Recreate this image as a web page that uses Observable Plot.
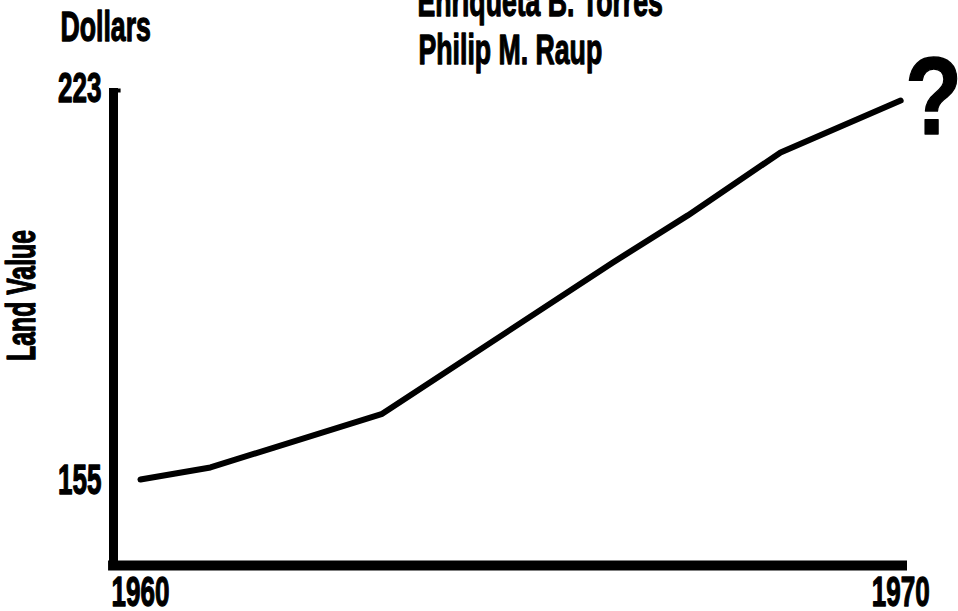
<!DOCTYPE html>
<html>
<head>
<meta charset="utf-8">
<script src="https://cdn.jsdelivr.net/npm/d3@7"></script>
<script src="https://cdn.jsdelivr.net/npm/@observablehq/plot@0.6"></script>
<style>
  html, body { margin: 0; padding: 0; background: #fff; }
  svg text { font-family: "Liberation Sans", Arial, sans-serif; font-weight: bold; fill: #000; stroke: #000; stroke-width: 1.3px; stroke-linejoin: round; }
</style>
</head>
<body>
<div id="chart"></div>
<script>
// Data
const years = [1960, 1960.92, 1963.18, 1966.21, 1967.2, 1968.42, 1970];
const values = [155.2, 157.3, 166.6, 192.8, 201.0, 211.9, 220.9];
const yTicks = [155, 223];
const xTicks = [1960, 1970];
const yLabel = "Land Value";
const unitLabel = "Dollars";
const authors = ["Enriqueta B. Torres", "Philip M. Raup"];
const endMark = "?";

const data = years.map((year, i) => ({year, value: values[i]}));
const xDomain = [1959.645, 1970.09];
const yDomain = [140.3, 223];

const chart = Plot.plot({
  width: 958,
  height: 611,
  marginLeft: 113,
  marginRight: 51,
  marginTop: 88,
  marginBottom: 46,
  x: {domain: xDomain, axis: null},
  y: {domain: yDomain, axis: null},
  style: {background: "#fff"},
  marks: [
    // axis bars
    Plot.ruleX([xDomain[0]], {y1: 139.43, y2: yDomain[1], stroke: "#000", strokeWidth: 9}),
    Plot.ruleY([yDomain[0]], {x1: 1959.58, x2: xDomain[1], stroke: "#000", strokeWidth: 10}),
    Plot.ruleY([yTicks[1]], {x1: xDomain[0], x2: xDomain[0] + 0.1, dy: 2, stroke: "#000", strokeWidth: 4}),
    // data line
    Plot.line(data, {x: "year", y: "value", stroke: "#000", strokeWidth: 6, strokeLinecap: "round", strokeLinejoin: "round"}),
    // y tick labels
    Plot.text(yTicks, {x: xDomain[0], y: d => d, text: d => String(d), dx: -12, textAnchor: "end", lineAnchor: "middle", fontSize: 42}),
    // x tick labels
    Plot.text(xTicks, {x: d => d, y: yDomain[0], text: d => String(d), dy: 27, textAnchor: "middle", lineAnchor: "middle", fontSize: 42}),
    // question mark at end of line
    Plot.text([data[data.length - 1]], {x: "year", y: "value", text: () => endMark, dx: 33, dy: -2, textAnchor: "middle", lineAnchor: "middle", fontSize: 110, strokeWidth: 3}),
    // unit label
    Plot.text([unitLabel], {frameAnchor: "top-left", text: d => d, dx: -53, dy: -48, textAnchor: "start", lineAnchor: "bottom", fontSize: 43}),
    // y label
    Plot.text([yLabel], {frameAnchor: "left", text: d => d, dx: -91, dy: -31.5, rotate: -90, textAnchor: "middle", lineAnchor: "middle", fontSize: 40}),
    // authors
    Plot.text([authors[0]], {frameAnchor: "top-left", text: d => d, dx: 304, dy: -73, textAnchor: "start", lineAnchor: "bottom", fontSize: 43}),
    Plot.text([authors[1]], {frameAnchor: "top-left", text: d => d, dx: 305, dy: -25, textAnchor: "start", lineAnchor: "bottom", fontSize: 43})
  ]
});

document.getElementById("chart").appendChild(chart);

// condensed gothic look: compress glyphs horizontally
d3.select(chart).selectAll("text").each(function () {
  const L = this.getComputedTextLength();
  const ratio = this.textContent === endMark ? 0.85 : 0.62;
  if (L > 0) {
    this.setAttribute("textLength", (L * ratio).toFixed(1));
    this.setAttribute("lengthAdjust", "spacingAndGlyphs");
  }
});
</script>
</body>
</html>
